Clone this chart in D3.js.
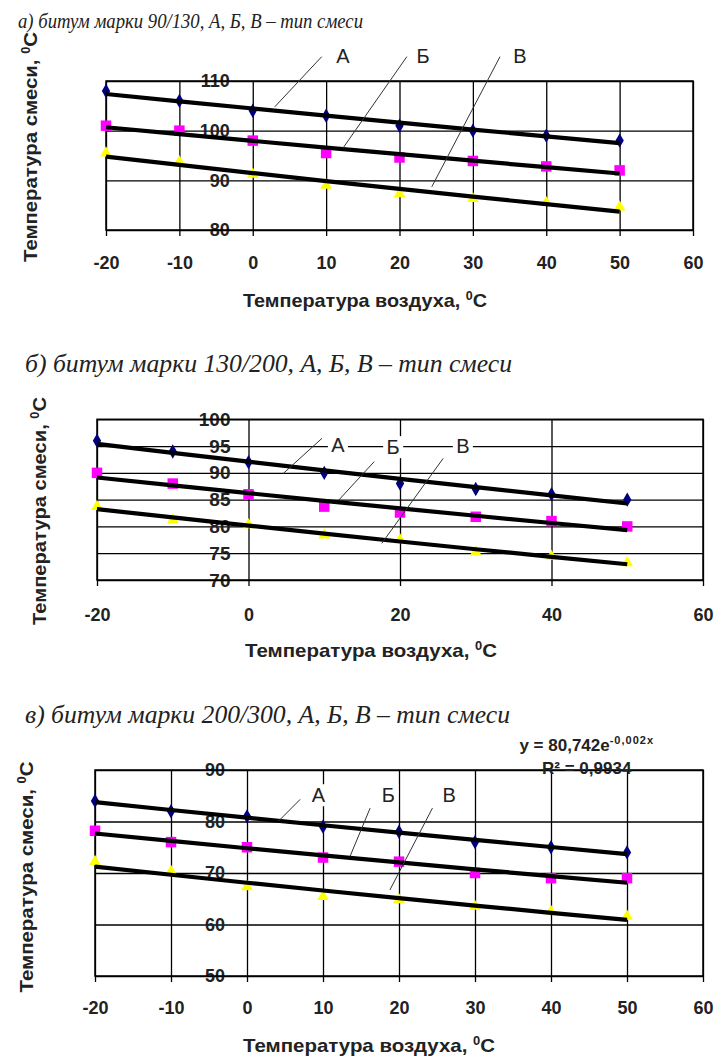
<!DOCTYPE html>
<html><head><meta charset="utf-8">
<script src="https://cdn.jsdelivr.net/npm/d3@7"></script>
<style>body{margin:0;background:#fff}svg{display:block}</style>
</head><body><svg id="chart" width="717" height="1056"></svg>
<script>
// ---------- data ----------
const xValues = [-20, -10, 0, 10, 20, 30, 40, 50];
const panelA_seriesA = [108, 106, 104, 103, 101, 100, 99, 98];
const panelA_seriesB = [101, 100, 98, 95.5, 94.6, 93.9, 92.8, 92];
const panelA_seriesV = [95.5, 93.7, 91.2, 89, 87.3, 86.3, 85.5, 84.6];
const panelB_seriesA = [96, 94, 92, 90, 88, 87, 86, 85];
const panelB_seriesB = [90, 88, 86, 83.7, 82.6, 81.8, 81, 80];
const panelB_seriesV = [83.7, 81.2, 80.3, 78.4, 77.5, 75.2, 74.4, 73.2];
const panelC_seriesA = [84, 82, 81, 79, 78, 76, 75, 74];
const panelC_seriesB = [78.2, 76, 75, 73, 72.2, 70, 69, 69];
const panelC_seriesV = [72.2, 70.3, 67.3, 65.4, 64.8, 63.5, 62.5, 61.6];

const xTicksA = [-20, -10, 0, 10, 20, 30, 40, 50, 60];
const yTicksA = [80, 90, 100, 110];
const xTicksB = [-20, 0, 20, 40, 60];
const yTicksB = [70, 75, 80, 85, 90, 95, 100];
const xTicksC = [-20, -10, 0, 10, 20, 30, 40, 50, 60];
const yTicksC = [50, 60, 70, 80, 90];

const panelTitles = [
  "а) битум марки 90/130, А, Б, В – тип смеси",
  "б) битум марки 130/200, А, Б, В – тип смеси",
  "в) битум марки 200/300, А, Б, В – тип смеси"
];
const seriesNames = ["А", "Б", "В"];
const xAxisTitle = "Температура воздуха, ";
const yAxisTitle = "Температура смеси, ";
const degreeSup = "0";
const unitC = "C";
const equationMain = "y = 80,742e";
const equationExp = "-0,002x";
const equationR2 = "R² = 0,9934";

// annotation anchor points (in data units): label [x,y], leader line [x1,y1,x2,y2]
const annotA_labels = [[12.3, 115.0], [23.2, 115.0], [36.4, 115.0]];
const annotA_lines = [[9.4, 114.9, 3.0, 104.8], [21.0, 114.9, 12.3, 96.5], [33.7, 114.9, 24.4, 88.7]];
const annotB_labels = [[11.8, 95.2], [19.1, 94.8], [28.3, 95.0]];
const annotB_lines = [[9.7, 96.45, 4.6, 89.9], [16.6, 92.1, 11.9, 84.9], [25.7, 92.7, 17.6, 76.85]];
const annotC_labels = [[9.4, 85.1], [18.6, 85.1], [26.6, 85.1]];
const annotC_lines = [[7.0, 84.3, 4.1, 80.0], [16.2, 82.6, 13.55, 73.2], [24.4, 82.6, 18.8, 66.7]];
const equationPos = [44.7, 94.9];
const r2Pos = [44.7, 90.4];

// ---------- layout ----------
const seriesColors = ["#000080", "#FF00FF", "#FFFF00"];
const sans = "'Liberation Sans', Arial, sans-serif";
const serif = "'Liberation Serif', 'Times New Roman', serif";

const panels = [
  { title: panelTitles[0], titleX: 18, titleY: 28, titleSize: 20, titleLen: 345,
    left: 106, right: 693, top: 81, bottom: 230, yDomain: [80, 110],
    xTicks: xTicksA, yTicks: yTicksA, yLabelGap: 23, yTickSize: 18,
    series: [panelA_seriesA, panelA_seriesB, panelA_seriesV],
    xTickY: 263, xTitleX: 365, xTitleY: 300, xTitleLen: 244,
    yTitleX: 37, yTitleY: 147, yTitleLen: 230,
    labels: annotA_labels, lines: annotA_lines, labelBg: false },
  { title: panelTitles[1], titleX: 25, titleY: 372, titleSize: 25, titleLen: 487,
    left: 97, right: 703, top: 419.3, bottom: 580, yDomain: [70, 100],
    xTicks: xTicksB, yTicks: yTicksB, yLabelGap: 18, yTickSize: 19,
    series: [panelB_seriesA, panelB_seriesB, panelB_seriesV],
    xTickY: 615, xTitleX: 371, xTitleY: 650, xTitleLen: 252,
    yTitleX: 46, yTitleY: 511, yTitleLen: 228,
    labels: annotB_labels, lines: annotB_lines, labelBg: true },
  { title: panelTitles[2], titleX: 25, titleY: 723, titleSize: 25, titleLen: 485,
    left: 95, right: 703, top: 770, bottom: 976, yDomain: [50, 90],
    xTicks: xTicksC, yTicks: yTicksC, yLabelGap: 22, yTickSize: 18,
    series: [panelC_seriesA, panelC_seriesB, panelC_seriesV],
    xTickY: 1008, xTitleX: 369, xTitleY: 1045, xTitleLen: 252,
    yTitleX: 33, yTitleY: 877, yTitleLen: 231,
    labels: annotC_labels, lines: annotC_lines, labelBg: true, equation: true }
];

const svg = d3.select("#chart");
svg.append("rect").attr("width", 717).attr("height", 1056).attr("fill", "#fff");

function expFit(xs, ys) {
  const ly = ys.map(Math.log);
  const mx = d3.mean(xs), my = d3.mean(ly);
  let sxy = 0, sxx = 0;
  xs.forEach((v, i) => { sxy += (v - mx) * (ly[i] - my); sxx += (v - mx) * (v - mx); });
  const b = sxy / sxx, a = my - b * mx;
  return v => Math.exp(a + b * v);
}

panels.forEach(p => {
  const g = svg.append("g");
  const x = d3.scaleLinear().domain([-20, 60]).range([p.left, p.right]);
  const y = d3.scaleLinear().domain(p.yDomain).range([p.bottom, p.top]);
  const h = p.bottom - p.top, w = p.right - p.left;

  // title
  g.append("text").attr("x", p.titleX).attr("y", p.titleY)
    .attr("font-family", serif).attr("font-style", "italic").attr("font-size", p.titleSize)
    .attr("textLength", p.titleLen).attr("lengthAdjust", "spacingAndGlyphs")
    .attr("fill", "#222").text(p.title);

  // horizontal gridlines
  const yGrid = g.append("g").attr("transform", `translate(${p.left},0)`)
    .call(d3.axisLeft(y).tickValues(p.yTicks).tickSize(-w).tickFormat(""));
  yGrid.select(".domain").remove();
  yGrid.selectAll("line").attr("stroke", "#000").attr("stroke-width", 1.3);

  // x axis: vertical gridlines + tick marks + labels
  const xAx = g.append("g").attr("transform", `translate(0,${p.bottom})`)
    .call(d3.axisBottom(x).tickValues(p.xTicks).tickSize(-h).tickFormat(d => String(d)));
  xAx.select(".domain").remove();
  xAx.selectAll("line").attr("y1", 6).attr("y2", -h).attr("stroke", "#000").attr("stroke-width", 1.3);
  xAx.selectAll("text").attr("y", p.xTickY - p.bottom).attr("dy", "0.35em")
    .attr("font-family", sans).attr("font-weight", "bold").attr("font-size", 18).attr("fill", "#222");

  // y axis labels at x = 0
  const yAx = g.append("g").attr("transform", `translate(${x(0)},0)`)
    .call(d3.axisLeft(y).tickValues(p.yTicks).tickSize(0).tickPadding(p.yLabelGap).tickFormat(d => String(d)));
  yAx.select(".domain").remove();
  yAx.selectAll("text").attr("font-family", sans).attr("font-weight", "bold")
    .attr("font-size", p.yTickSize).attr("fill", "#222");

  // border
  g.append("rect").attr("x", p.left).attr("y", p.top).attr("width", w).attr("height", h)
    .attr("fill", "none").attr("stroke", "#000").attr("stroke-width", 1.5);

  // markers
  const shapes = [d3.symbolDiamond, d3.symbolSquare, d3.symbolTriangle];
  const sizes = [60, 110, 60];
  p.series.forEach((s, si) => {
    g.append("g").selectAll("path").data(s).join("path")
      .attr("transform", (d, i) => `translate(${x(xValues[i])},${y(d)})`)
      .attr("d", d3.symbol(shapes[si], sizes[si])())
      .attr("fill", seriesColors[si]);
  });

  // trendlines (exponential fit)
  p.series.forEach(s => {
    const f = expFit(xValues, s);
    g.append("path").datum(xValues)
      .attr("d", d3.line().x(d => x(d)).y(d => y(f(d))))
      .attr("fill", "none").attr("stroke", "#000").attr("stroke-width", 4.2);
  });

  // annotation leaders and labels
  p.lines.forEach(l => {
    g.append("line").attr("x1", x(l[0])).attr("y1", y(l[1])).attr("x2", x(l[2])).attr("y2", y(l[3]))
      .attr("stroke", "#333").attr("stroke-width", 1);
  });
  p.labels.forEach((l, i) => {
    if (p.labelBg) {
      g.append("rect").attr("x", x(l[0]) - 10).attr("y", y(l[1]) - 11).attr("width", 20).attr("height", 22)
        .attr("fill", "#fff");
    }
    g.append("text").attr("x", x(l[0])).attr("y", y(l[1])).attr("dy", "0.35em")
      .attr("text-anchor", "middle").attr("font-family", sans).attr("font-size", 20)
      .attr("fill", "#222").text(seriesNames[i]);
  });

  // axis titles
  const xt = g.append("text").attr("x", p.xTitleX).attr("y", p.xTitleY).attr("dy", "0.35em")
    .attr("text-anchor", "middle").attr("font-family", sans).attr("font-weight", "bold")
    .attr("font-size", 19).attr("fill", "#222")
    .attr("textLength", p.xTitleLen).attr("lengthAdjust", "spacingAndGlyphs");
  xt.append("tspan").text(xAxisTitle);
  xt.append("tspan").attr("font-size", 12).attr("dy", -7).text(degreeSup);
  xt.append("tspan").attr("dy", 7).text(unitC);

  const yt = g.append("text").attr("transform", `translate(${p.yTitleX},${p.yTitleY}) rotate(-90)`)
    .attr("text-anchor", "middle").attr("font-family", sans).attr("font-weight", "bold")
    .attr("font-size", 19).attr("fill", "#222")
    .attr("textLength", p.yTitleLen).attr("lengthAdjust", "spacingAndGlyphs");
  yt.append("tspan").text(yAxisTitle);
  yt.append("tspan").attr("font-size", 12).attr("dy", -7).text(degreeSup);
  yt.append("tspan").attr("dy", 7).text(unitC);

  if (p.equation) {
    const eq = g.append("text").attr("x", x(equationPos[0])).attr("y", y(equationPos[1])).attr("dy", "0.35em")
      .attr("text-anchor", "middle").attr("font-family", sans).attr("font-weight", "bold")
      .attr("font-size", 17).attr("fill", "#222");
    eq.append("tspan").text(equationMain);
    eq.append("tspan").attr("font-size", 11).attr("dy", -7).attr("letter-spacing", 1).text(equationExp);
    g.append("text").attr("x", x(r2Pos[0])).attr("y", y(r2Pos[1])).attr("dy", "0.35em")
      .attr("text-anchor", "middle").attr("font-family", sans).attr("font-weight", "bold")
      .attr("font-size", 17).attr("fill", "#222").text(equationR2);
  }
});
</script>
</body></html>
